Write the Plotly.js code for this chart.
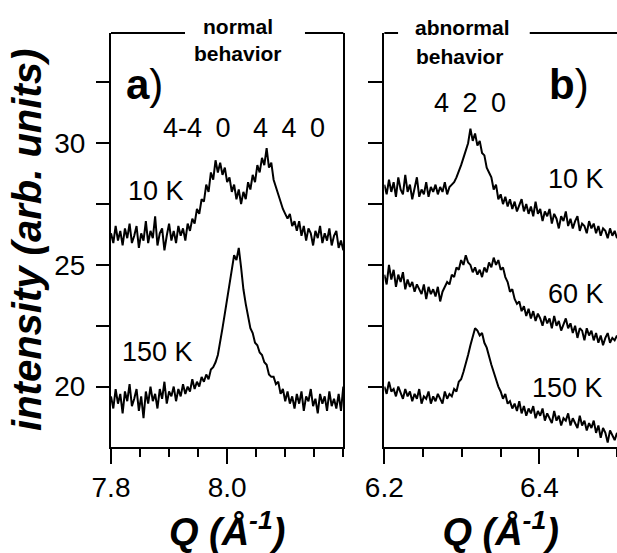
<!DOCTYPE html>
<html>
<head>
<meta charset="utf-8">
<script src="https://cdn.plot.ly/plotly-3.0.1.min.js"></script>
<style>
html,body{margin:0;padding:0;background:#fff;}
#chart{width:617px;height:553px;}
</style>
</head>
<body>
<div id="chart"></div>
<script>
// ---- Data ----
// Panel a): Q grid start / step (Å^-1)
const qStartA = 7.8, qStepA = 0.004;
// Panel b): Q grid start / step (Å^-1)
const qStartB = 6.2, qStepB = 0.003;

// Panel a) normal behavior, 4-4 0 / 4 4 0 reflections
const intensityA_10K = [
  26.3, 25.9, 26.6, 26.0, 26.4, 25.8, 26.5, 26.1, 26.7, 25.9,
  26.2, 26.6, 25.7, 26.3, 26.0, 26.8, 25.9, 26.4, 26.1, 27.0,
  25.8, 26.3, 26.5, 25.6, 26.2, 26.7, 26.0, 26.4, 25.9, 26.6,
  26.2, 26.5, 26.0, 26.7, 26.4, 26.9, 26.7, 27.3, 27.1, 27.7,
  27.6, 28.3, 28.0, 28.8, 28.5, 29.3, 28.8, 29.2, 28.7, 29.0,
  28.4, 28.6, 28.0, 28.3, 27.7, 28.1, 27.5, 28.0, 27.7, 28.4,
  28.1, 28.7, 28.4, 29.1, 28.8, 29.4, 29.1, 29.8, 29.0, 29.2,
  28.5, 28.2, 27.8, 27.6, 27.3, 27.1, 26.9, 27.1, 26.6, 26.8,
  26.4, 26.8, 26.2, 26.6, 26.0, 26.5, 26.3, 25.8, 26.4, 26.1,
  26.6, 25.9, 26.3, 26.0, 26.5, 25.8, 26.2, 26.4, 25.7, 26.0, 25.6
];
const intensityA_150K = [
  19.6, 19.1, 19.9, 19.3, 19.7, 18.9, 19.8, 19.4, 20.1, 19.2,
  19.5, 19.9, 19.0, 19.6, 18.7, 19.8, 19.3, 20.0, 19.4, 19.7,
  19.1, 19.9, 19.5, 20.2, 19.3, 19.8, 19.6, 20.0, 19.4, 19.9,
  19.6, 20.1, 19.7, 20.0, 19.8, 20.3, 19.9, 20.2, 20.0, 20.4,
  20.2, 20.5, 20.3, 20.7, 20.8, 21.0, 21.3, 21.8, 22.4, 23.0,
  23.6, 24.3, 24.8, 25.4, 25.2, 25.7, 24.9, 24.0, 23.4, 22.9,
  22.4, 22.2, 21.8, 21.7, 21.4, 21.3, 21.0, 20.9, 20.5, 20.4,
  20.4, 20.1, 20.2, 19.7, 19.9, 19.4, 19.8, 19.3, 19.6, 19.1,
  19.7, 19.3, 19.8, 19.0, 19.6, 19.4, 19.9, 19.2, 19.5, 18.9,
  19.7, 19.3, 19.6, 19.0, 19.8, 19.2, 19.5, 19.1, 19.7, 19.0, 20.0
];

// Panel b) abnormal behavior, 4 2 0 reflection
const intensityB_10K = [
  28.3, 27.9, 28.5, 28.0, 28.4, 27.8, 28.6, 28.1, 27.9, 28.7,
  28.0, 28.3, 27.7, 28.2, 28.6, 27.8, 28.1, 27.9, 28.4, 27.8,
  28.2, 28.0, 28.3, 27.9, 28.2, 28.0, 28.4, 27.9, 28.2, 28.3,
  28.4, 28.6, 28.9, 29.1, 29.4, 29.7, 30.0, 30.6, 30.1, 30.4,
  29.9, 30.1, 29.6, 29.5, 29.0, 28.8, 28.6, 28.1, 28.3, 27.7,
  27.9, 27.5, 27.8, 27.4, 27.7, 27.3, 27.6, 27.2, 27.5, 27.7,
  27.2, 27.5, 27.1, 27.4, 27.0, 27.6, 27.1, 27.3, 26.8, 27.2,
  27.0, 27.3, 26.7, 27.1, 26.9, 26.5, 27.0, 26.8, 27.2, 26.6,
  26.9, 26.5, 26.8, 27.0, 26.4, 26.7, 26.6, 26.3, 26.8, 26.5,
  26.7, 26.3, 26.6, 26.2, 26.5, 26.4, 26.1, 26.5, 26.2, 26.4, 26.1
];
const intensityB_60K = [
  24.6, 24.2, 25.0, 24.4, 24.8, 24.1, 24.6, 24.3, 24.7, 24.0,
  24.4, 24.1, 24.3, 23.9, 24.2, 24.0, 23.8, 24.2, 23.6, 24.1,
  23.8, 24.0, 23.7, 24.1, 23.5, 23.9, 24.1, 24.3, 24.2, 24.6,
  24.5, 24.9, 24.8, 25.2, 25.0, 25.4, 25.1, 25.0, 24.7, 24.9,
  24.6, 24.8, 24.5, 24.9, 24.7, 25.1, 24.9, 25.3, 25.0, 25.2,
  24.8, 24.9, 24.5, 24.3, 23.9, 24.0, 23.6, 23.4, 23.5, 23.1,
  23.3, 22.9, 23.2, 22.8, 23.1, 22.7, 23.0, 22.8, 22.5, 22.9,
  22.6, 22.8, 22.4, 22.9, 22.5, 22.7, 22.3, 22.6, 22.8, 22.4,
  22.6, 22.2, 22.5, 22.0, 22.4, 22.3, 21.9, 22.4, 22.1, 22.3,
  21.9, 22.2, 21.8, 22.1, 21.7, 22.0, 22.2, 21.8, 22.0, 21.9, 22.1
];
const intensityB_150K = [
  20.0, 19.7, 20.2, 19.8, 19.9, 19.6, 20.0, 19.7, 19.5, 19.9,
  19.6, 19.8, 19.4, 19.7, 19.5, 19.9, 19.3, 19.6, 19.5, 19.8,
  19.3, 19.6, 19.4, 19.7, 19.5, 19.3, 19.8, 19.5, 19.7, 19.6,
  19.9, 19.8, 20.2, 20.3, 20.6, 20.9, 21.3, 21.7, 22.0, 22.4,
  22.3, 22.1, 22.2, 21.8, 21.6, 21.2, 20.9, 20.6, 20.3, 20.0,
  19.8, 19.5, 19.7, 19.3, 19.4, 19.1, 19.3, 19.0, 19.4, 18.9,
  19.2, 18.8, 19.1, 18.9, 19.2, 18.7, 19.0, 18.8, 19.1, 18.6,
  18.9, 18.7, 18.5, 19.0, 18.6, 18.8, 18.4, 18.7, 18.6, 18.9,
  18.4, 18.7, 18.5, 18.3, 18.8, 18.4, 18.6, 18.2, 18.5, 18.3,
  18.6, 18.1, 18.4, 17.9, 18.3, 18.1, 17.7, 18.2, 18.0, 17.8, 18.1
];

// Tick labels
const xTickValsA = [7.8, 8.0], xTickTextA = ['7.8', '8.0'];
const xTickValsB = [6.2, 6.4], xTickTextB = ['6.2', '6.4'];
const yTickVals = [20, 25, 30];
const yTickText = ['20', '25', '30'];

// ---- Plot ----
const FONT = 'Liberation Sans, Arial, Helvetica, sans-serif';
const lineStyle = {color: '#000', width: 2};

const traces = [
  {x0: qStartA, dx: qStepA, y: intensityA_10K, xaxis: 'x', yaxis: 'y', mode: 'lines', line: lineStyle, name: '10 K'},
  {x0: qStartA, dx: qStepA, y: intensityA_150K, xaxis: 'x', yaxis: 'y', mode: 'lines', line: lineStyle, name: '150 K'},
  {x0: qStartB, dx: qStepB, y: intensityB_10K, xaxis: 'x2', yaxis: 'y2', mode: 'lines', line: lineStyle, name: '10 K'},
  {x0: qStartB, dx: qStepB, y: intensityB_60K, xaxis: 'x2', yaxis: 'y2', mode: 'lines', line: lineStyle, name: '60 K'},
  {x0: qStartB, dx: qStepB, y: intensityB_150K, xaxis: 'x2', yaxis: 'y2', mode: 'lines', line: lineStyle, name: '150 K'}
];

const axBase = {
  showline: true, linecolor: '#000', linewidth: 2,
  ticks: 'outside', tickcolor: '#000', tickwidth: 2,
  showgrid: false, zeroline: false, automargin: false,
  tickfont: {family: FONT, size: 28, color: '#000'}
};
const xTitle = {text: '<b><i>Q (Å<sup>-1</sup>)</i></b>', font: {family: FONT, size: 38, color: '#000'}, standoff: 16};
const yDomain = [0.1922, 0.9403];
const yRange = [17.53, 34.53];
const yMinor = {tick0: 0, dtick: 2.5, ticklen: 13, tickwidth: 2, tickcolor: '#000', ticks: 'outside'};

const layout = {
  width: 617, height: 553,
  margin: {l: 0, r: 0, t: 0, b: 0, pad: 0},
  paper_bgcolor: '#fff', plot_bgcolor: 'rgba(0,0,0,0)',
  showlegend: false,
  font: {family: FONT, color: '#000'},
  xaxis: Object.assign({}, axBase, {
    domain: [0.1799, 0.5564], range: [7.8, 8.2], anchor: 'y',
    tickmode: 'array', tickvals: xTickValsA, ticktext: xTickTextA, ticklen: 15,
    ticklabelstandoff: 0,
    minor: {tick0: 7.8, dtick: 0.05, ticklen: 8, tickwidth: 2, tickcolor: '#000', ticks: 'outside'},
    title: xTitle
  }),
  yaxis: Object.assign({}, axBase, {
    domain: yDomain, range: yRange, anchor: 'x', mirror: true,
    tickmode: 'array', tickvals: yTickVals, ticktext: yTickText, ticklen: 13,
    ticklabelstandoff: 5,
    minor: yMinor,
    title: {text: '<b><i>intensity (arb. units)</i></b>', font: {family: FONT, size: 40, color: '#000'}, standoff: 0}
  }),
  xaxis2: Object.assign({}, axBase, {
    domain: [0.6229, 1], range: [6.2, 6.5], anchor: 'y2',
    tickmode: 'array', tickvals: xTickValsB, ticktext: xTickTextB, ticklen: 15,
    ticklabelstandoff: 0,
    minor: {tick0: 6.2, dtick: 0.05, ticklen: 8, tickwidth: 2, tickcolor: '#000', ticks: 'outside'},
    title: xTitle
  }),
  yaxis2: Object.assign({}, axBase, {
    domain: yDomain, range: yRange, anchor: 'x2',
    tickmode: 'array', tickvals: yTickVals, ticklen: 14, showticklabels: false,
    minor: Object.assign({}, yMinor, {ticklen: 14})
  }),
  shapes: [
    {type: 'line', xref: 'x domain', yref: 'y domain', x0: 0, x1: 0.3186, y0: 1, y1: 1, line: {color: '#000', width: 2}},
    {type: 'line', xref: 'x domain', yref: 'y domain', x0: 0.835, x1: 1, y0: 1, y1: 1, line: {color: '#000', width: 2}},
    {type: 'line', xref: 'x2 domain', yref: 'y2 domain', x0: 0, x1: 0.059, y0: 1, y1: 1, line: {color: '#000', width: 2}},
    {type: 'line', xref: 'x2 domain', yref: 'y2 domain', x0: 0.625, x1: 1, y0: 1, y1: 1, line: {color: '#000', width: 2}}
  ],
  annotations: [
    // panel a
    {xref: 'x', yref: 'y', x: 7.857, y: 32.4, text: '<b>a</b>)', font: {size: 42}},
    {xref: 'x', yref: 'paper', x: 8.019, y: 0.952, text: '<b>normal</b>', font: {size: 21}},
    {xref: 'x', yref: 'paper', x: 8.019, y: 0.903, text: '<b>behavior</b>', font: {size: 21}},
    {xref: 'x', yref: 'y', x: 7.948, y: 30.63, text: '4-4\u20020', font: {size: 27}},
    {xref: 'x', yref: 'y', x: 8.106, y: 30.63, text: '4\u20024\u20020', font: {size: 27}},
    {xref: 'x', yref: 'y', x: 7.878, y: 28.04, text: '10 K', font: {size: 27}},
    {xref: 'x', yref: 'y', x: 7.880, y: 21.42, text: '150 K', font: {size: 27}},
    // panel b
    {xref: 'x2', yref: 'y2', x: 6.4385, y: 32.43, text: '<b>b</b>)', font: {size: 42}},
    {xref: 'x2', yref: 'paper', x: 6.301, y: 0.951, text: '<b>abnormal</b>', font: {size: 21}},
    {xref: 'x2', yref: 'paper', x: 6.298, y: 0.897, text: '<b>behavior</b>', font: {size: 21}},
    {xref: 'x2', yref: 'y2', x: 6.310, y: 31.65, text: '4\u20022\u20020', font: {size: 27}},
    {xref: 'x2', yref: 'y2', x: 6.4475, y: 28.53, text: '10 K', font: {size: 27}},
    {xref: 'x2', yref: 'y2', x: 6.4475, y: 23.81, text: '60 K', font: {size: 27}},
    {xref: 'x2', yref: 'y2', x: 6.436, y: 19.95, text: '150 K', font: {size: 27}}
  ].map(a => Object.assign({showarrow: false, xanchor: 'center', yanchor: 'middle'}, a))
};

Plotly.newPlot('chart', traces, layout, {displayModeBar: false, staticPlot: true});
</script>
</body>
</html>
